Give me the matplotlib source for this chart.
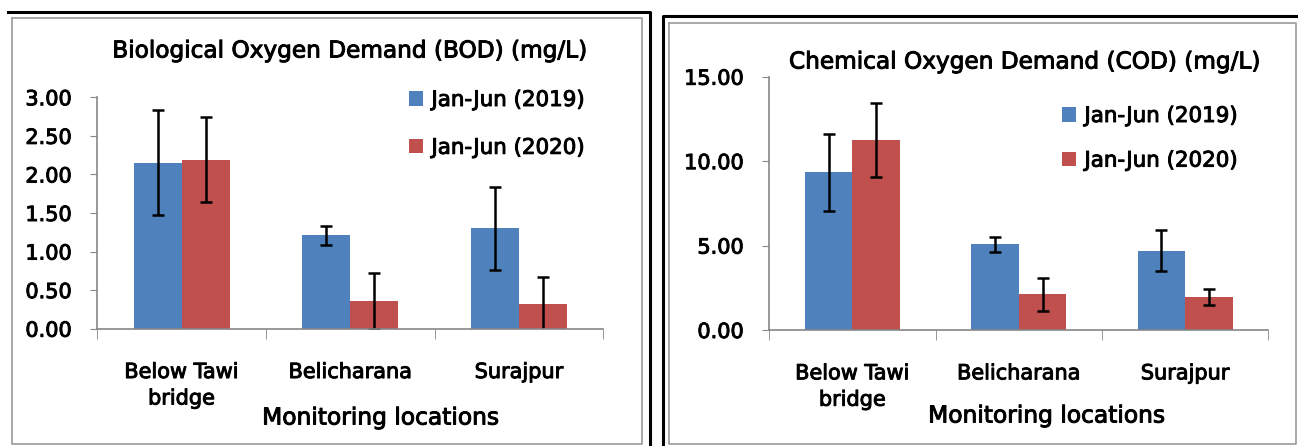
import matplotlib
matplotlib.use("Agg")
import matplotlib.pyplot as plt
import matplotlib.patheffects as pe
from matplotlib.lines import Line2D
import numpy as np

locations = ["Below Tawi\nbridge", "Belicharana", "Surajpur"]
series = ["Jan-Jun (2019)", "Jan-Jun (2020)"]

bod_2019 = [2.15, 1.21, 1.30]
bod_2019_err = [0.68, 0.12, 0.54]
bod_2020 = [2.19, 0.36, 0.32]
bod_2020_err = [0.55, 0.36, 0.35]

cod_2019 = [9.33, 5.07, 4.70]
cod_2019_err = [2.26, 0.43, 1.21]
cod_2020 = [11.27, 2.11, 1.95]
cod_2020_err = [2.19, 0.96, 0.45]

W, H = 1298, 446
BLUE = "#4F81BD"
RED = "#C0504D"
AXC = "#868686"

plt.rcParams['font.family'] = ['DejaVu Sans']
# a thin stroke makes the text a bit heavier, like the original
bold_fx = [pe.withStroke(linewidth=0.7, foreground="black")]

fig = plt.figure(figsize=(W / 100, H / 100), dpi=100)


def px_rect(x0, y0, x1, y1):
    # pixel box -> figure axes rect
    return [x0 / W, 1 - y1 / H, (x1 - x0) / W, (y1 - y0) / H]


def line(xs, ys, color, lw):
    fig.add_artist(Line2D([x / W for x in xs], [1 - y / H for y in ys],
                          color=color, lw=lw, transform=fig.transFigure))


def draw_panel(rect, v19, e19, v20, e20, ymax, ystep, title, title_xy, leg_xy, xlab_xy):
    ax = fig.add_axes(rect)
    x = np.arange(len(locations))
    w = 0.285
    ekw = dict(ecolor="black", elinewidth=1.8, capsize=4.5, capthick=1.8)
    ax.bar(x - w / 2, v19, w, color=BLUE, yerr=e19, error_kw=ekw, label=series[0])
    ax.bar(x + w / 2, v20, w, color=RED, yerr=e20, error_kw=ekw, label=series[1])
    ax.set_xlim(-0.5, 2.5)
    ax.set_ylim(0, ymax)
    ticks = np.arange(0, ymax + 0.001, ystep)
    ax.set_yticks(ticks)
    ax.set_yticklabels([f"{v:.2f}" for v in ticks])
    ax.set_xticks(x)
    ax.set_xticklabels(locations, fontsize=15, linespacing=1.4)
    ax.set_xticks([-0.5, 0.5, 1.5, 2.5], minor=True)
    ax.tick_params(axis="x", which="major", length=0, pad=24)
    ax.tick_params(axis="x", which="minor", length=7, color=AXC, direction="out")
    ax.tick_params(axis="y", length=5, color=AXC, labelsize=15, pad=13.4)
    for s in ["top", "right"]:
        ax.spines[s].set_visible(False)
    for s in ["left", "bottom"]:
        ax.spines[s].set_color(AXC)
        ax.spines[s].set_linewidth(1.2)
    for t in ax.get_xticklabels() + ax.get_yticklabels():
        t.set_path_effects(bold_fx)
    fig.text(title_xy[0] / W, 1 - title_xy[1] / H, title, fontsize=16.7,
             ha="center", va="center", path_effects=bold_fx)
    fig.text(xlab_xy[0] / W, 1 - xlab_xy[1] / H, "Monitoring locations",
             fontsize=16.8, ha="center", va="center", path_effects=bold_fx)
    leg = ax.legend(loc="upper left", bbox_to_anchor=(leg_xy[0] / W, 1 - leg_xy[1] / H),
                    bbox_transform=fig.transFigure, frameon=False, fontsize=15.4,
                    handlelength=0.65, handleheight=0.65, handletextpad=0.4,
                    labelspacing=leg_xy[2], borderpad=0, borderaxespad=0)
    for t in leg.get_texts():
        t.set_path_effects(bold_fx)
    return ax


draw_panel(px_rect(97.3, 97.3, 603.3, 328.7), bod_2019, bod_2019_err,
           bod_2020, bod_2020_err, 3.0, 0.5,
           "Biological Oxygen Demand (BOD) (mg/L)", (349, 51), (409, 90, 1.3), (381, 418))
draw_panel(px_rect(769.3, 76.7, 1268.3, 330), cod_2019, cod_2019_err,
           cod_2020, cod_2020_err, 15.0, 5.0,
           "Chemical Oxygen Demand (COD) (mg/L)", (1024, 62), (1062, 106, 1.15), (1047, 416))

# frames around the two panels
line([8, 650, 650], [12, 12, 446], "black", 2.2)
line([12, 642, 642, 12, 12], [18, 18, 444, 444, 18], "#9a9a9a", 1.2)
line([663, 663, 1298], [446, 16, 16], "black", 2.2)
line([669, 1296, 1296, 669, 669], [22.7, 22.7, 444, 444, 22.7], "#9a9a9a", 1.2)

fig.savefig("out.png", dpi=100)
